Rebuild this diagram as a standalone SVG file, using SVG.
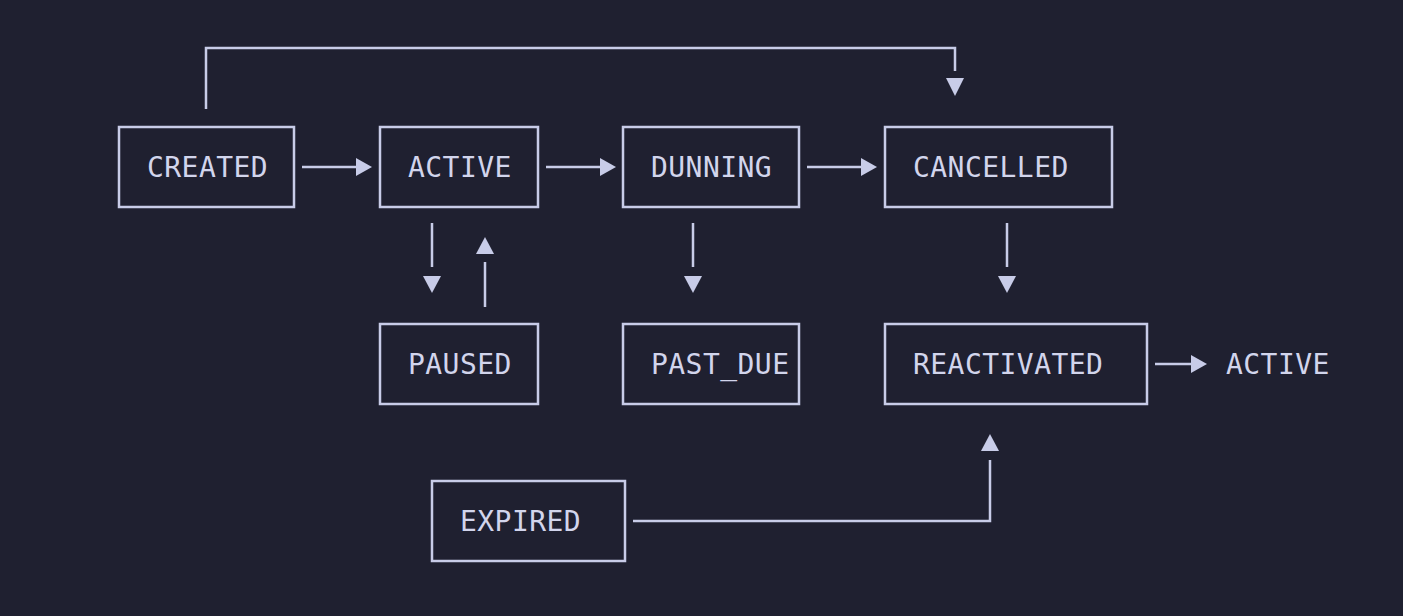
<svg xmlns="http://www.w3.org/2000/svg" width="1403" height="616" viewBox="0 0 1403 616">
<style>
.box{fill:none;stroke:#c8cce8;stroke-width:2.5}
.lbl{fill:#d2d5ec;font-family:"DejaVu Sans Mono","Liberation Mono",monospace;font-size:28px;letter-spacing:0.45px}
.ln{fill:none;stroke:#c8cce8;stroke-width:2.5}
.ah{fill:#c8cce8}
</style>
<rect width="1403" height="616" fill="#1f2030"/>
<g id="connectors">
<polyline class="ln" points="206,109 206,48 955,48 955,71"/>
<polygon class="ah" points="946,78 964,78 955,96"/>
<line class="ln" x1="302" y1="167" x2="357" y2="167"/>
<polygon class="ah" points="356,158 372,167 356,176"/>
<line class="ln" x1="546" y1="167" x2="601" y2="167"/>
<polygon class="ah" points="600,158 616,167 600,176"/>
<line class="ln" x1="807" y1="167" x2="862" y2="167"/>
<polygon class="ah" points="861,158 877,167 861,176"/>
<line class="ln" x1="432" y1="223" x2="432" y2="267"/>
<polygon class="ah" points="423,276 441,276 432,293"/>
<line class="ln" x1="485" y1="262" x2="485" y2="307"/>
<polygon class="ah" points="476,254 494,254 485,237"/>
<line class="ln" x1="693" y1="223" x2="693" y2="267"/>
<polygon class="ah" points="684,276 702,276 693,293"/>
<line class="ln" x1="1007" y1="223" x2="1007" y2="267"/>
<polygon class="ah" points="998,276 1016,276 1007,293"/>
<line class="ln" x1="1155" y1="364" x2="1192" y2="364"/>
<polygon class="ah" points="1191,355 1207,364 1191,373"/>
<polyline class="ln" points="633,521 990,521 990,460"/>
<polygon class="ah" points="981,451 999,451 990,434"/>
</g>
<g id="created"><rect class="box" x="119" y="127" width="175" height="80"/><text class="lbl" x="147" y="177">CREATED</text></g>
<g id="active"><rect class="box" x="380" y="127" width="158" height="80"/><text class="lbl" x="408" y="177">ACTIVE</text></g>
<g id="dunning"><rect class="box" x="623" y="127" width="176" height="80"/><text class="lbl" x="651" y="177">DUNNING</text></g>
<g id="cancelled"><rect class="box" x="885" y="127" width="227" height="80"/><text class="lbl" x="913" y="177">CANCELLED</text></g>
<g id="paused"><rect class="box" x="380" y="324" width="158" height="80"/><text class="lbl" x="408" y="374">PAUSED</text></g>
<g id="past_due"><rect class="box" x="623" y="324" width="176" height="80"/><text class="lbl" x="651" y="374">PAST_DUE</text></g>
<g id="reactivated"><rect class="box" x="885" y="324" width="262" height="80"/><text class="lbl" x="913" y="374">REACTIVATED</text></g>
<g id="active_out"><text class="lbl" x="1226" y="374">ACTIVE</text></g>
<g id="expired"><rect class="box" x="432" y="481" width="193" height="80"/><text class="lbl" x="460" y="531">EXPIRED</text></g>
</svg>
